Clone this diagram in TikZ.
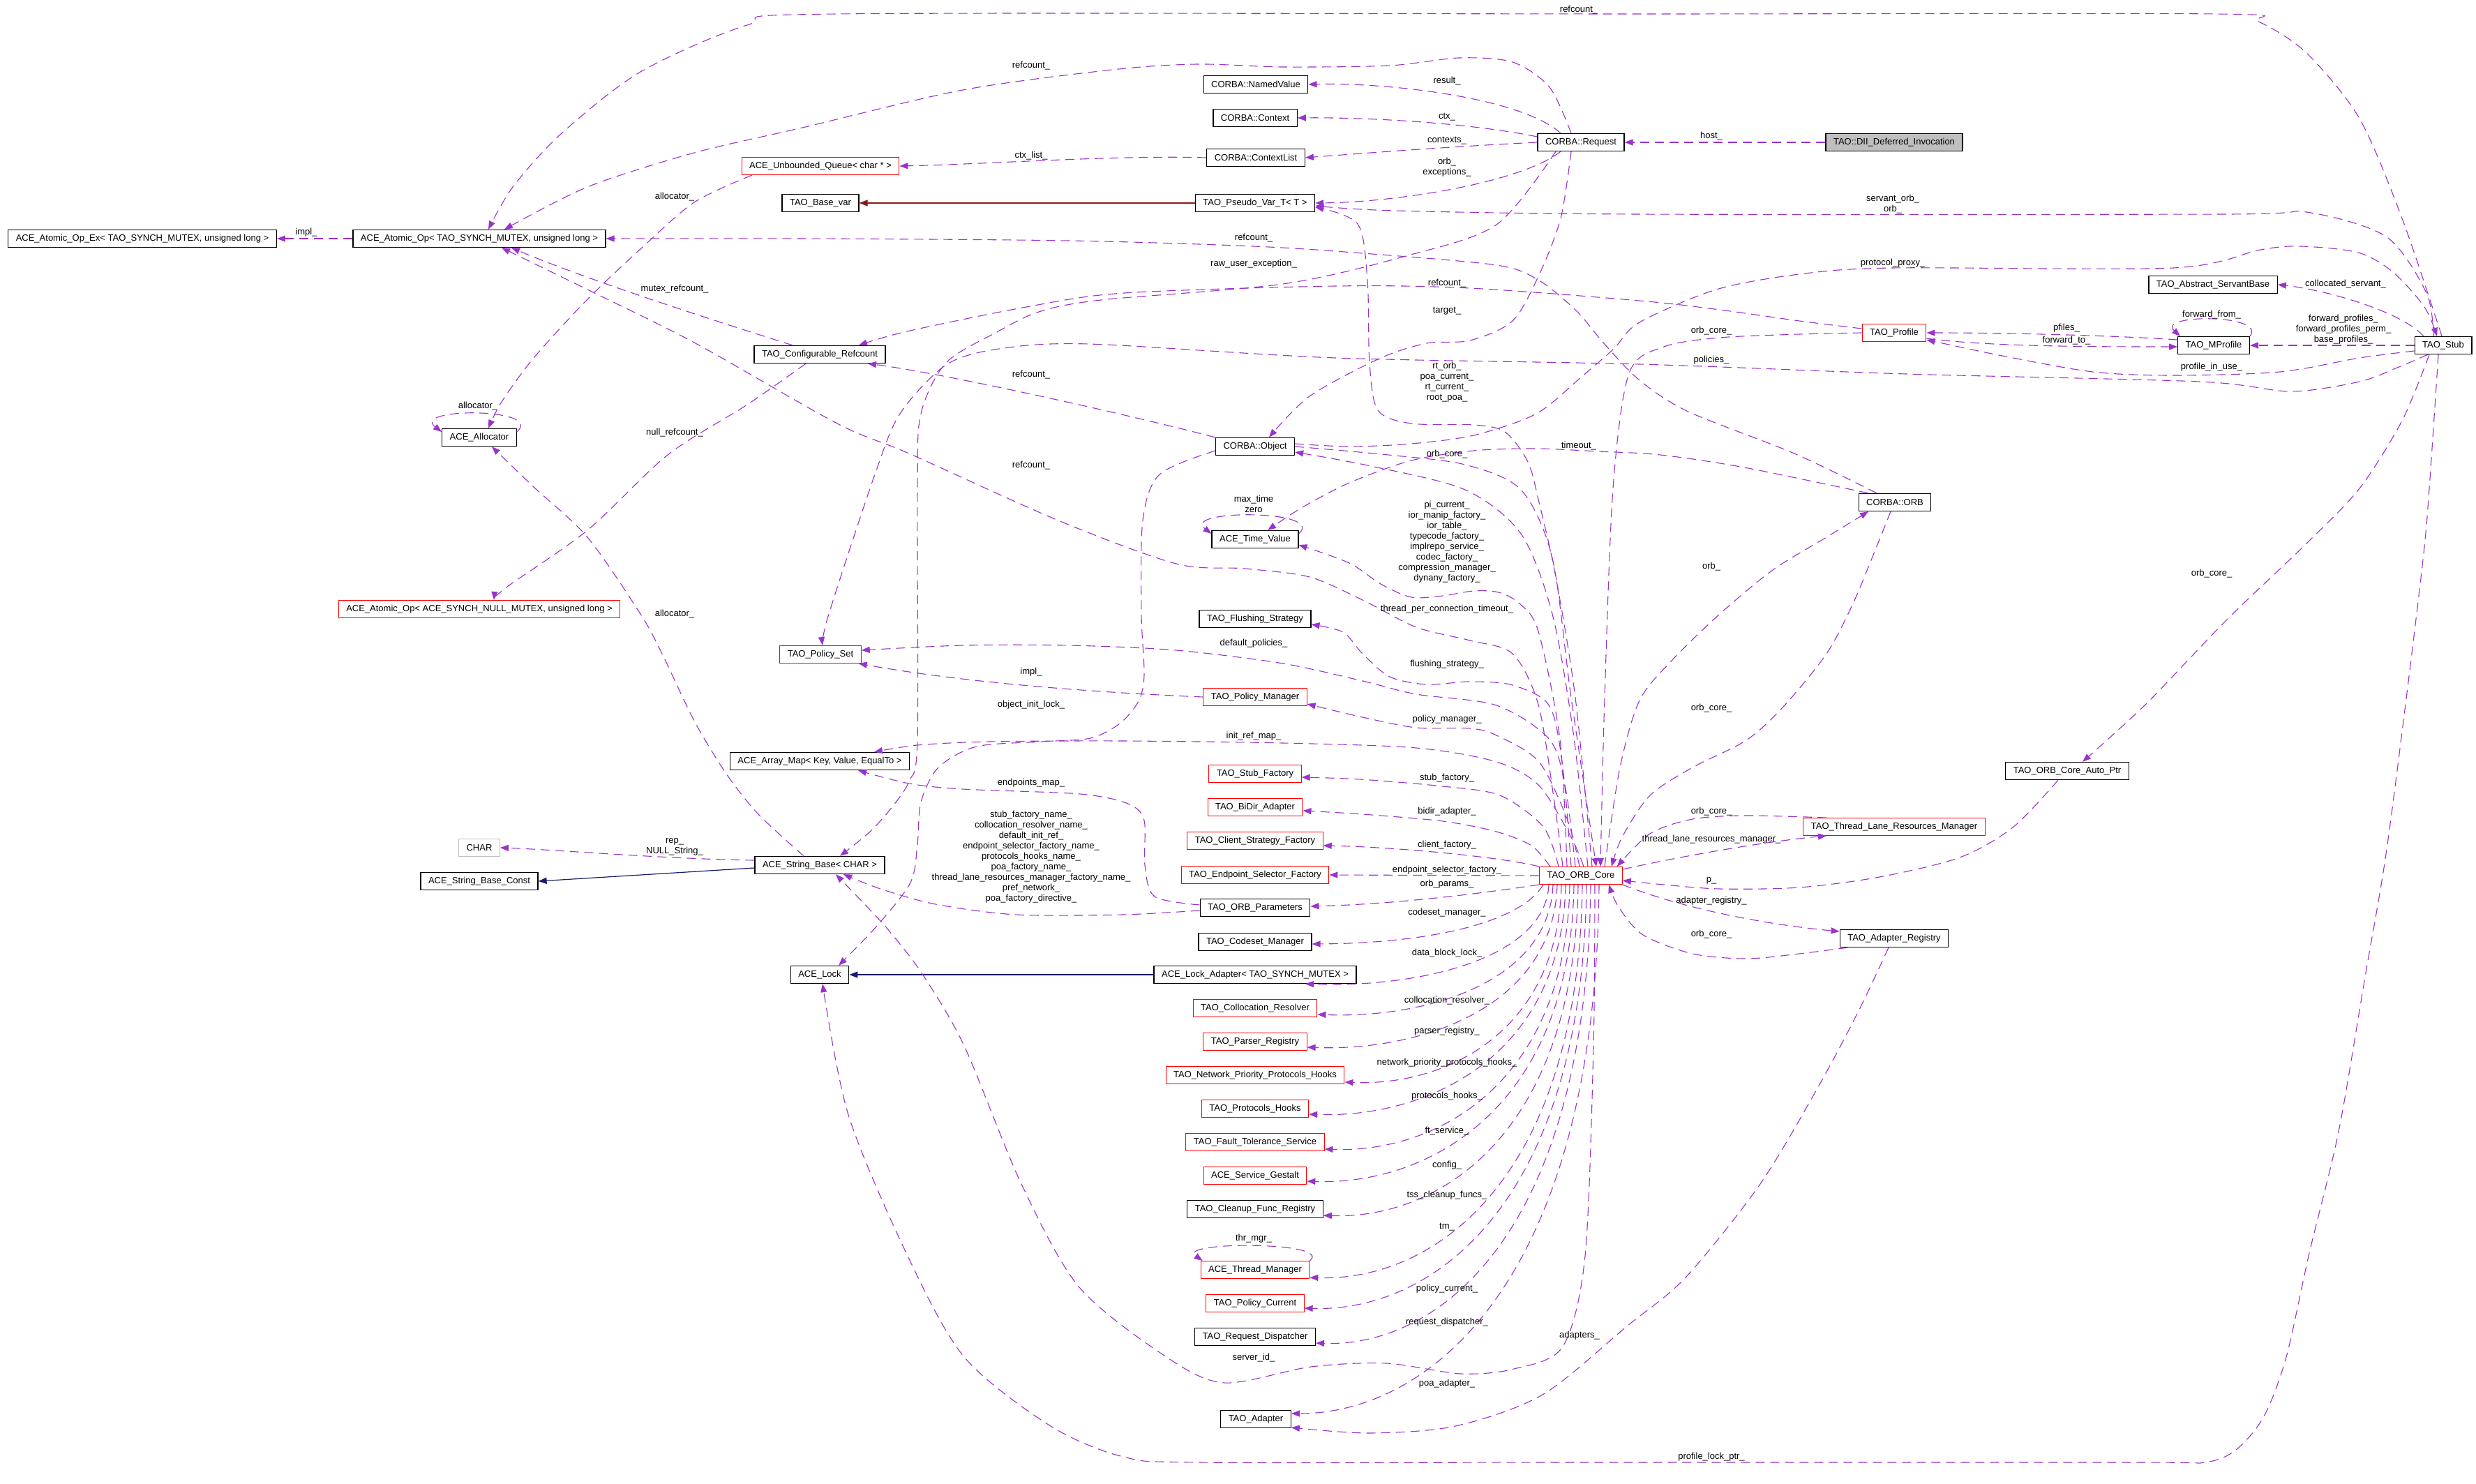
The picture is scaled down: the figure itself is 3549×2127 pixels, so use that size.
\documentclass[tikz,border=0pt]{standalone}
\usepackage{fontspec}
\setmainfont{Liberation Sans}
\usepackage{tikz}
\usetikzlibrary{arrows.meta}
\definecolor{usecol}{HTML}{9A32CD}
\definecolor{inhblue}{HTML}{191970}
\definecolor{inhred}{HTML}{8B1A1A}
\definecolor{boxgrey}{HTML}{BFBFBF}
\newcommand{\dotfont}{\fontsize{13}{15}\selectfont}
\tikzstyle{cls} = [rectangle, draw=black, line width=1.3pt, minimum height=25pt, inner xsep=11pt, inner ysep=1pt, font=\dotfont]
\tikzstyle{clsred} = [cls, draw=red, line width=1pt]
\tikzstyle{lbl} = [inner sep=0pt, align=center, font=\dotfont]
\tikzstyle{uses} = [draw=usecol, line width=1.1pt, dash pattern=on 13pt off 8pt, -{Triangle[length=12pt,width=9pt]}]
\tikzstyle{inherit} = [line width=1.2pt, -{Triangle[length=12pt,width=9pt]}]

\begin{document}
\begin{tikzpicture}[x=1pt, y=-1pt]
\useasboundingbox (0,0) rectangle (3549,2127);
\fill[white] (0,0) rectangle (3549,2127);

\node (atomicex) [cls] at (204,342) {ACE\_Atomic\_Op\_Ex< TAO\_SYNCH\_MUTEX, unsigned long >};
\node (atomic) [cls] at (687,342) {ACE\_Atomic\_Op< TAO\_SYNCH\_MUTEX, unsigned long >};
\node (queue) [clsred] at (1176,238) {ACE\_Unbounded\_Queue< char * >};
\node (basevar) [cls] at (1176,291) {TAO\_Base\_var};
\node (confref) [cls] at (1175,508) {TAO\_Configurable\_Refcount};
\node (allocator) [cls] at (687,627) {ACE\_Allocator};
\node (nullatomic) [clsred] at (687,873) {ACE\_Atomic\_Op< ACE\_SYNCH\_NULL\_MUTEX, unsigned long >};
\node (policyset) [clsred] at (1176,938) {TAO\_Policy\_Set};
\node (arraymap) [cls] at (1175,1091) {ACE\_Array\_Map< Key, Value, EqualTo >};
\node (charnode) [cls, draw=boxgrey, line width=1pt] at (687,1215) {CHAR};
\node (strconst) [cls] at (687,1263) {ACE\_String\_Base\_Const};
\node (strbase) [cls] at (1175,1240) {ACE\_String\_Base< CHAR >};
\node (lock) [cls] at (1175,1397) {ACE\_Lock};

\node (namedvalue) [cls] at (1800,121) {CORBA::NamedValue};
\node (context) [cls] at (1799,169) {CORBA::Context};
\node (ctxlist) [cls] at (1800,226) {CORBA::ContextList};
\node (pseudovar) [cls] at (1799,291) {TAO\_Pseudo\_Var\_T< T >};
\node (object) [cls] at (1799,640) {CORBA::Object};
\node (timevalue) [cls] at (1799,773) {ACE\_Time\_Value};
\node (flushing) [cls] at (1799,887) {TAO\_Flushing\_Strategy};
\node (policymgr) [clsred] at (1799,999) {TAO\_Policy\_Manager};
\node (stubfactory) [clsred] at (1799,1109) {TAO\_Stub\_Factory};
\node (bidir) [clsred] at (1799,1157) {TAO\_BiDir\_Adapter};
\node (clientfactory) [clsred] at (1799,1205) {TAO\_Client\_Strategy\_Factory};
\node (endpointsel) [clsred] at (1799,1254) {TAO\_Endpoint\_Selector\_Factory};
\node (orbparams) [cls] at (1799,1301) {TAO\_ORB\_Parameters};
\node (codeset) [cls] at (1799,1350) {TAO\_Codeset\_Manager};
\node (lockadapter) [cls] at (1799,1397) {ACE\_Lock\_Adapter< TAO\_SYNCH\_MUTEX >};
\node (collocation) [clsred] at (1799,1445) {TAO\_Collocation\_Resolver};
\node (parser) [clsred] at (1799,1493) {TAO\_Parser\_Registry};
\node (netprio) [clsred] at (1799,1541) {TAO\_Network\_Priority\_Protocols\_Hooks};
\node (protohooks) [clsred] at (1799,1589) {TAO\_Protocols\_Hooks};
\node (ftservice) [clsred] at (1799,1637) {TAO\_Fault\_Tolerance\_Service};
\node (gestalt) [clsred] at (1799,1685) {ACE\_Service\_Gestalt};
\node (cleanup) [cls] at (1799,1733) {TAO\_Cleanup\_Func\_Registry};
\node (thrmgr) [clsred] at (1799,1820) {ACE\_Thread\_Manager};
\node (policycur) [clsred] at (1799,1868) {TAO\_Policy\_Current};
\node (reqdisp) [cls] at (1799,1916) {TAO\_Request\_Dispatcher};
\node (adapter) [cls] at (1800,2034) {TAO\_Adapter};

\node (request) [cls] at (2266,204) {CORBA::Request};
\node (orbcore) [clsred] at (2266,1255) {TAO\_ORB\_Core};
\node (dii) [cls, fill=boxgrey] at (2715,204) {TAO::DII\_Deferred\_Invocation};
\node (profile) [clsred] at (2715,477) {TAO\_Profile};
\node (orb) [cls] at (2716,720) {CORBA::ORB};
\node (threadlane) [clsred] at (2715,1185) {TAO\_Thread\_Lane\_Resources\_Manager};
\node (adapterreg) [cls] at (2715,1345) {TAO\_Adapter\_Registry};
\node (autoptr) [cls] at (2963,1105) {TAO\_ORB\_Core\_Auto\_Ptr};
\node (servantbase) [cls] at (3172,408) {TAO\_Abstract\_ServantBase};
\node (mprofile) [cls] at (3173,495) {TAO\_MProfile};
\node (stub) [cls] at (3502,495) {TAO\_Stub};

\draw [uses] (dii.west) -- (request.east);
\draw [uses] ([xshift=-29]request.north) .. controls (2180,140) and (1990,118) .. (namedvalue.east);
\draw [uses] ([yshift=8]request.west) .. controls (2100,175) and (1950,168) .. (context.east);
\draw [uses] (request.west) .. controls (2080,210) and (1950,220) .. (ctxlist.east);
\draw [uses] (ctxlist.west) .. controls (1600,222) and (1400,236) .. (queue.east);
\draw [uses] ([xshift=-29]request.south) .. controls (2180,262) and (2000,290) .. (pseudovar.east);
\draw [inherit, draw=inhred] (pseudovar.west) -- (basevar.east);
\draw [uses] plot[smooth] coordinates {([xshift=-14]request.north) (2221,125) (2168,89) (2091,83) (1992,94) (1839,96) (1716,92) (1594,100) (1380,129) (1150,183) (995,219) (842,268) ([xshift=36]atomic.north)};
\draw [uses] plot[smooth] coordinates {([xshift=-14]request.south) (2237,313) (2206,394) (2168,460) (2107,488) (2045,492) (1977,514) (1877,568) ([xshift=20]object.north)};
\draw [uses] plot[smooth] coordinates {([xshift=-36]request.south) (2145,322) (2015,367) (1839,407) (1578,430) (1489,447) (1427,477) (1356,520) (1320,593) (1315,700) (1315,1060) (1303,1120) (1276,1160) (1246,1193) ([xshift=29]strbase.north)};

\draw [uses] (atomic.west) -- (atomicex.east);
\draw [uses] plot[smooth] coordinates {([xshift=-98]queue.south) (995,290) (918,357) (842,429) (765,513) (719,576) ([xshift=13]allocator.north)};
\draw [uses] ([yshift=8]allocator.east) .. controls +(40,-35) and +(-45,-35) .. ([yshift=8]allocator.west);
\draw [uses] ([xshift=-39]confref.north) .. controls (1000,452) and (840,400) .. ([xshift=46]atomic.south);
\draw [uses] plot[smooth] coordinates {([xshift=-20]confref.south) (1071,580) (957,652) (842,760) (727,841) ([xshift=21]nullatomic.north)};
\draw [uses] plot[smooth] coordinates {([xshift=-23]strbase.north) (1087,1167) (1041,1109) (995,1033) (949,937) (918,880) (842,770) (765,698) ([xshift=18]allocator.south)};
\draw [inherit, draw=inhblue] ([yshift=-4]strbase.west) -- (strconst.east);
\draw [uses] ([yshift=7]strbase.west) .. controls (950,1231) and (800,1218) .. (charnode.east);
\draw [inherit, draw=inhblue] (lockadapter.west) -- (lock.east);

\draw [uses] plot[smooth] coordinates {([xshift=-2]stub.north) (3443,313) (3382,170) (3306,76) (3237,31) (3176,20) (2350,20) (1200,20) (1071,36) (918,103) (804,192) (735,268) ([xshift=13]atomic.north)};
\draw [uses] plot[smooth] coordinates {([xshift=-14]stub.north) (3478,420) (3420,339) (3306,304) (3191,307) (2350,307) (2000,302) ([yshift=-4]pseudovar.east)};
\draw [uses] ([xshift=-28]stub.north) .. controls (3440,445) and (3330,415) .. (servantbase.east);
\draw [uses] (stub.west) -- (mprofile.east);
\draw [uses] plot[smooth] coordinates {([yshift=-8]stub.west) (3382,513) (3268,533) (3115,538) (3000,533) (2870,510) ([yshift=-10]profile.east)};
\draw [uses] plot[smooth] coordinates {([xshift=-22]stub.south) (3436,527) (3382,547) (3283,561) (3153,547) (2732,536) (2350,522) (1915,513) (1560,493) (1432,500) (1356,523) (1290,593) (1254,680) (1188,880) ([xshift=3]policyset.north)};
\draw [uses] plot[smooth] coordinates {([xshift=-20]stub.south) (3443,603) (3382,700) (3306,779) (3191,889) (3076,1009) ([xshift=22]autoptr.north)};
\draw [uses] plot[smooth] coordinates {([xshift=-7]stub.south) (3482,700) (3474,793) (3451,985) (3420,1224) (3390,1400) (3352,1622) (3310,1796) (3277,1945) (3245,2030) (3205,2078) (3160,2096) (3060,2096) (2250,2096) (1720,2096) (1610,2088) (1506,2044) (1382,1945) (1299,1796) (1216,1598) ([xshift=4]lock.south)};

\draw [uses] ([yshift=8]mprofile.west) .. controls (3050,482) and (2900,477) .. (profile.east);
\draw [uses] ([yshift=-8]profile.east) .. controls (2850,497) and (3000,497) .. ([yshift=-2]mprofile.west);
\draw [uses] (mprofile.north east) .. controls +(25,-32) and +(-35,-32) .. ([xshift=4]mprofile.north west);
\draw [uses] plot[smooth] coordinates {([yshift=6]profile.west) (2579,460) (2465,444) (2350,431) (2107,413) (1915,410) (1611,420) (1471,440) (1300,475) ([xshift=56]confref.north)};
\draw [uses] plot[smooth] coordinates {(profile.west) (2579,479) (2465,484) (2385,497) (2335,535) (2312,700) (2300,1000) ([xshift=28]orbcore.north)};

\draw [uses] (object.north west) .. controls (1600,590) and (1350,535) .. ([xshift=69]confref.south);
\draw [uses] plot[smooth] coordinates {([yshift=-6]object.west) (1662,680) (1638,746) (1636,880) (1640,967) (1632,1005) (1605,1037) (1563,1058) (1494,1063) (1400,1070) (1345,1100) (1320,1150) (1315,1210) (1305,1265) (1257,1327) ([xshift=27]lock.north)};
\draw [uses] plot[smooth] coordinates {([yshift=4]object.east) (1934,640) (2023,636) (2112,624) (2202,593) (2267,540) (2313,500) (2350,462) (2460,415) (2579,393) (2713,384) (3115,384) (3240,358) (3298,353) (3380,362) (3430,390) (3475,440) ([xshift=-9]stub.north)};
\draw [uses] plot[smooth] coordinates {(object.east) (1990,652) (2100,666) (2180,702) (2225,800) (2252,1000) ([xshift=22]orbcore.north)};

\draw [uses] plot[smooth] coordinates {([xshift=-26]orb.north) (2572,650) (2420,590) (2350,545) (2298,491) (2260,446) (2206,402) (2145,380) (1953,363) (1797,353) (1533,345) (1150,342) (atomic.east)};
\draw [uses] plot[smooth] coordinates {([xshift=-38]orb.north) (2500,670) (2380,652) (2291,647) (2200,643) (2112,646) (2023,660) (1934,692) (1867,727) ([xshift=18]timevalue.north)};
\draw [uses] ([yshift=8]timevalue.east) .. controls +(40,-35) and +(-45,-35) .. ([yshift=8]timevalue.west);
\draw [uses] plot[smooth] coordinates {([xshift=34]orbcore.north) (2322,1100) (2350,1004) (2396,947) (2465,880) (2541,817) (2618,770) ([xshift=-38]orb.south)};
\draw [uses] plot[smooth] coordinates {([xshift=-6]orb.south) (2686,793) (2656,865) (2618,937) (2556,1013) (2503,1061) (2426,1100) (2365,1140) (2325,1200) ([xshift=44]orbcore.north)};

\draw [uses] plot[smooth] coordinates {([xshift=-97]threadlane.north) (2503,1169) (2426,1174) (2365,1195) ([xshift=-8]orbcore.north east)};
\draw [uses] ([yshift=-4]orbcore.north east) .. controls (2420,1225) and (2540,1205) .. ([xshift=-97]threadlane.south);
\draw [uses] plot[smooth] coordinates {([xshift=-13]autoptr.south) (2885,1186) (2809,1229) (2694,1257) (2579,1272) (2465,1274) (2385,1268) ([yshift=-7]orbcore.east)};
\draw [uses] (orbcore.south east) .. controls (2420,1305) and (2540,1326) .. ([yshift=10]adapterreg.west);
\draw [uses] plot[smooth] coordinates {([xshift=-67]adapterreg.south) (2579,1367) (2503,1374) (2426,1367) (2355,1340) (2320,1300) ([xshift=40]orbcore.south)};
\draw [uses] plot[smooth] coordinates {([xshift=-8]adapterreg.south) (2664,1449) (2606,1558) (2523,1697) (2416,1831) (2333,1900) (2211,1999) (2086,2044) (1962,2054) ([yshift=-12]adapter.east)};

\draw [uses] plot[smooth] coordinates {([xshift=-26]orbcore.north) (2228,1150) (2205,1010) (2168,937) (2107,918) (2030,899) (1953,860) (1877,827) (1785,815) (1686,808) (1517,746) (1303,650) (1200,607) (995,491) (842,415) ([xshift=32]atomic.south)};
\draw [uses] plot[smooth] coordinates {([xshift=10]orbcore.north) (2255,1050) (2225,880) (2180,765) (2100,702) (1965,668) ([yshift=-8]object.east)};
\draw [uses] plot[smooth] coordinates {([xshift=16]orbcore.north) (2258,1000) (2230,827) (2206,720) (2190,662) (2157,619) (2112,609) (2023,607) (1975,588) (1963,520) (1960,402) (1946,321) ([yshift=-6]pseudovar.east)};
\draw [uses] plot[smooth] coordinates {([xshift=-20]orbcore.north) (2236,1060) (2205,905) (2178,865) (2148,849) (2112,847) (2068,854) (2023,856) (1979,837) (1934,807) ([yshift=-8]timevalue.east)};
\draw [uses] plot[smooth] coordinates {([xshift=-14]orbcore.north) (2240,1100) (2221,1012) (2168,982) (2107,977) (2045,981) (1992,970) (1953,937) (1925,906) ([yshift=-8]flushing.east)};
\draw [uses] plot[smooth] coordinates {([xshift=-8]orbcore.north) (2244,1130) (2221,1060) (2145,1011) (2030,995) (1953,976) (1839,951) (1686,932) (1533,925) (1380,925) ([yshift=6]policyset.east)};
\draw [uses] plot[smooth] coordinates {([xshift=-2]orbcore.north) (2247,1176) (2206,1092) (2145,1054) (2107,1044) (2030,1043) (1953,1028) ([yshift=-10]policymgr.east)};
\draw [uses] plot[smooth] coordinates {([xshift=4]orbcore.north) (2252,1200) (2206,1126) (2145,1092) (2030,1072) (1839,1065) (1609,1062) (1418,1063) (1315,1068) ([xshift=78]arraymap.north)};
\draw [uses] plot[smooth] coordinates {([xshift=-32]orbcore.north) (2212,1185) (2150,1140) (2068,1127) (1950,1117) ([yshift=-5]stubfactory.east)};
\draw [uses] plot[smooth] coordinates {([xshift=-44]orbcore.north) (2195,1212) (2145,1192) (2068,1177) (1953,1167) ([yshift=-5]bidir.east)};
\draw [uses] (orbcore.north west) .. controls (2150,1228) and (2000,1214) .. ([yshift=-7]clientfactory.east);
\draw [uses] (orbcore.west) -- (endpointsel.east);
\draw [uses] (orbcore.south west) .. controls (2100,1284) and (1990,1296) .. ([yshift=2]orbparams.east);
\draw [uses] ([xshift=-54]orbcore.south) .. controls (2180,1322) and (2050,1352) .. ([yshift=-3]codeset.east);
\draw [uses] ([xshift=-46]orbcore.south) .. controls (2215,1375) and (2031,1416) .. ([xshift=72]lockadapter.south);
\draw [uses] ([xshift=-40]orbcore.south) .. controls (2221,1408) and (2043,1460) .. ([yshift=-9]collocation.east);
\draw [uses] ([xshift=-34]orbcore.south) .. controls (2227,1443) and (2038,1507) .. ([yshift=-8]parser.east);
\draw [uses] ([xshift=-28]orbcore.south) .. controls (2233,1480) and (2072,1557) .. ([yshift=-10]netprio.east);
\draw [uses] ([xshift=-22]orbcore.south) .. controls (2239,1515) and (2045,1603) .. ([yshift=-8]protohooks.east);
\draw [uses] ([xshift=-16]orbcore.south) .. controls (2245,1552) and (2060,1653) .. ([yshift=-10]ftservice.east);
\draw [uses] ([xshift=-10]orbcore.south) .. controls (2251,1587) and (2049,1699) .. ([yshift=-8]gestalt.east);
\draw [uses] ([xshift=-4]orbcore.south) .. controls (2257,1624) and (2064,1748) .. ([yshift=-9]cleanup.east);
\draw [uses] ([xshift=2]orbcore.south) .. controls (2263,1690) and (2056,1837) .. ([yshift=-11]thrmgr.east);
\draw [uses] (thrmgr.north east) .. controls +(35,-28) and +(-40,-28) .. ([xshift=3]thrmgr.north west);
\draw [uses] ([xshift=8]orbcore.south) .. controls (2269,1723) and (2055,1881) .. ([yshift=-7]policycur.east);
\draw [uses] ([xshift=14]orbcore.south) .. controls (2275,1761) and (2067,1931) .. ([yshift=-9]reqdisp.east);
\draw [uses] plot[smooth] coordinates {([xshift=20]orbcore.south) (2284,1500) (2272,1800) (2240,1930) (2170,1962) (2094,1969) (1987,1954) (1879,1959) (1755,1982) (1672,1945) (1547,1845) (1464,1697) (1382,1499) (1322,1396) (1276,1336) (1246,1303) ([xshift=23]strbase.south)};
\draw [uses] ([xshift=26]orbcore.south) .. controls (2287,1836) and (2049,2026) .. ([yshift=8]adapter.east);

\draw [uses] (policymgr.west) .. controls (1560,992) and (1380,978) .. ([xshift=-4]policyset.south east);
\draw [uses] plot[smooth] coordinates {([yshift=4]orbparams.west) (1655,1285) (1641,1240) (1640,1176) (1617,1152) (1548,1138) (1380,1131) (1303,1123) ([xshift=55]arraymap.south)};
\draw [uses] plot[smooth] coordinates {([yshift=-4]orbparams.west) (1609,1311) (1456,1311) (1341,1296) (1262,1274) ([xshift=34]strbase.south)};

\node (lhost) [lbl] at (2453,195) {host\_};
\node (lresult) [lbl] at (2074,116) {result\_};
\node (lctx) [lbl] at (2074,168) {ctx\_};
\node (lcontexts) [lbl] at (2074,202) {contexts\_};
\node (lctxlist) [lbl] at (1478,223) {ctx\_list\_};
\node (lorbexc) [lbl] at (2074,240) {orb\_\\exceptions\_};
\node (lstubref) [lbl] at (2263,14) {refcount\_};
\node (lreqref) [lbl] at (1478,94) {refcount\_};
\node (limpl) [lbl] at (439,333) {impl\_};
\node (lqalloc) [lbl] at (967,282) {allocator\_};
\node (lmutexref) [lbl] at (967,414) {mutex\_refcount\_};
\node (lselfalloc) [lbl] at (685,582) {allocator\_};
\node (lnullref) [lbl] at (967,620) {null\_refcount\_};
\node (lsalloc) [lbl] at (967,880) {allocator\_};
\node (lservant) [lbl] at (2713,293) {servant\_orb\_\\orb\_};
\node (lorbref) [lbl] at (1797,341) {refcount\_};
\node (lrawexc) [lbl] at (1797,378) {raw\_user\_exception\_};
\node (lproxy) [lbl] at (2713,377) {protocol\_proxy\_};
\node (lprofref) [lbl] at (2074,406) {refcount\_};
\node (lcolloc) [lbl] at (3362,407) {collocated\_servant\_};
\node (ltarget) [lbl] at (2074,446) {target\_};
\node (lfwdfrom) [lbl] at (3170,451) {forward\_from\_};
\node (lpfiles) [lbl] at (2962,470) {pfiles\_};
\node (lproforb) [lbl] at (2453,474) {orb\_core\_};
\node (lfwdprof) [lbl] at (3359,472) {forward\_profiles\_\\forward\_profiles\_perm\_\\base\_profiles\_};
\node (lfwdto) [lbl] at (2962,488) {forward\_to\_};
\node (lpolicies) [lbl] at (2453,516) {policies\_};
\node (linuse) [lbl] at (3170,526) {profile\_in\_use\_};
\node (lobjref) [lbl] at (1478,537) {refcount\_};
\node (lrtorb) [lbl] at (2074,548) {rt\_orb\_\\poa\_current\_\\rt\_current\_\\root\_poa\_};
\node (ltimeout) [lbl] at (2263,639) {timeout\_};
\node (lobjcore) [lbl] at (2074,651) {orb\_core\_};
\node (lcoreref) [lbl] at (1478,667) {refcount\_};
\node (lmaxtime) [lbl] at (1797,722) {max\_time\\zero};
\node (lpicur) [lbl] at (2074,777) {pi\_current\_\\ior\_manip\_factory\_\\ior\_table\_\\typecode\_factory\_\\implrepo\_service\_\\codec\_factory\_\\compression\_manager\_\\dynany\_factory\_};
\node (lorb) [lbl] at (2453,812) {orb\_};
\node (lstubcore) [lbl] at (3170,822) {orb\_core\_};
\node (ltpct) [lbl] at (2074,873) {thread\_per\_connection\_timeout\_};
\node (ldefpol) [lbl] at (1797,922) {default\_policies\_};
\node (lflush) [lbl] at (2074,952) {flushing\_strategy\_};
\node (lpmimpl) [lbl] at (1478,963) {impl\_};
\node (linitlock) [lbl] at (1478,1010) {object\_init\_lock\_};
\node (lorbcore) [lbl] at (2453,1015) {orb\_core\_};
\node (lpolmgr) [lbl] at (2074,1031) {policy\_manager\_};
\node (linitref) [lbl] at (1797,1055) {init\_ref\_map\_};
\node (lstubfac) [lbl] at (2074,1115) {stub\_factory\_};
\node (lendmap) [lbl] at (1478,1122) {endpoints\_map\_};
\node (lbidir) [lbl] at (2074,1163) {bidir\_adapter\_};
\node (ltlcore) [lbl] at (2453,1163) {orb\_core\_};
\node (lnames) [lbl] at (1478,1228) {stub\_factory\_name\_\\collocation\_resolver\_name\_\\default\_init\_ref\_\\endpoint\_selector\_factory\_name\_\\protocols\_hooks\_name\_\\poa\_factory\_name\_\\thread\_lane\_resources\_manager\_factory\_name\_\\pref\_network\_\\poa\_factory\_directive\_};
\node (lclient) [lbl] at (2074,1211) {client\_factory\_};
\node (ltlrm) [lbl] at (2453,1203) {thread\_lane\_resources\_manager\_};
\node (lrep) [lbl] at (967,1214) {rep\_\\NULL\_String\_};
\node (lendsel) [lbl] at (2074,1247) {endpoint\_selector\_factory\_};
\node (lp) [lbl] at (2453,1262) {p\_};
\node (lorbparams) [lbl] at (2074,1267) {orb\_params\_};
\node (ladreg) [lbl] at (2453,1291) {adapter\_registry\_};
\node (lcodeset) [lbl] at (2074,1308) {codeset\_manager\_};
\node (larcore) [lbl] at (2453,1339) {orb\_core\_};
\node (ldblock) [lbl] at (2074,1366) {data\_block\_lock\_};
\node (lcollres) [lbl] at (2074,1434) {collocation\_resolver\_};
\node (lparser) [lbl] at (2074,1478) {parser\_registry\_};
\node (lnetprio) [lbl] at (2074,1523) {network\_priority\_protocols\_hooks\_};
\node (lprotoh) [lbl] at (2074,1571) {protocols\_hooks\_};
\node (lft) [lbl] at (2074,1621) {ft\_service\_};
\node (lconfig) [lbl] at (2074,1670) {config\_};
\node (ltss) [lbl] at (2074,1713) {tss\_cleanup\_funcs\_};
\node (ltm) [lbl] at (2074,1759) {tm\_};
\node (lthrmgr) [lbl] at (1797,1775) {thr\_mgr\_};
\node (lpolcur) [lbl] at (2074,1847) {policy\_current\_};
\node (lreqdisp) [lbl] at (2074,1895) {request\_dispatcher\_};
\node (ladapters) [lbl] at (2264,1914) {adapters\_};
\node (lserverid) [lbl] at (1797,1946) {server\_id\_};
\node (lpoa) [lbl] at (2074,1983) {poa\_adapter\_};
\node (lproflock) [lbl] at (2453,2088) {profile\_lock\_ptr\_};
\end{tikzpicture}
\end{document}
